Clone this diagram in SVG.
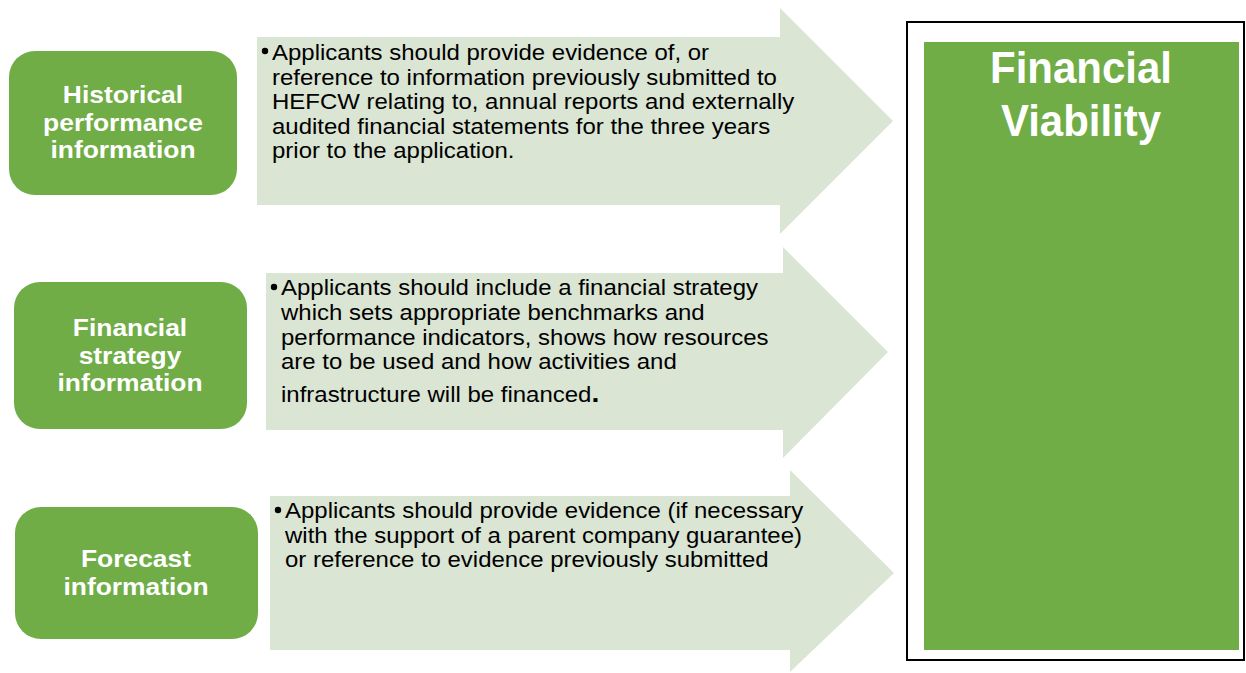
<svg xmlns="http://www.w3.org/2000/svg" width="1246" height="673" viewBox="0 0 1246 673">
  <style>
    .tag { fill: #70AD47; }
    .tag-text { font-family: "Liberation Sans", Arial, sans-serif; font-weight: bold; font-size: 24px; fill: #FFFFFF; text-anchor: middle; }
    .arrow { fill: #DAE5D3; }
    .body { font-family: "Liberation Sans", Arial, sans-serif; font-size: 22px; fill: #000000; }
    .bullet { fill: #000000; }
    .title { font-family: "Liberation Sans", Arial, sans-serif; font-weight: bold; font-size: 45px; fill: #FFFFFF; text-anchor: middle; }
  </style>

  <rect width="1246" height="673" fill="#FFFFFF"/>

  <!-- Left-hand category labels (label text slightly widened) -->
  <g id="historical">
    <rect class="tag" x="9" y="51" width="228" height="144" rx="26"/>
    <g transform="translate(123,0) scale(1.1,1)">
      <text class="tag-text" x="0" y="103">Historical</text>
      <text class="tag-text" x="0" y="131">performance</text>
      <text class="tag-text" x="0" y="158">information</text>
    </g>
  </g>

  <g id="strategy">
    <rect class="tag" x="14" y="282" width="233" height="147" rx="26"/>
    <g transform="translate(130,0) scale(1.1,1)">
      <text class="tag-text" x="0" y="336">Financial</text>
      <text class="tag-text" x="0" y="364">strategy</text>
      <text class="tag-text" x="0" y="391">information</text>
    </g>
  </g>

  <g id="forecast">
    <rect class="tag" x="15" y="507" width="243" height="132" rx="26"/>
    <g transform="translate(136,0) scale(1.1,1)">
      <text class="tag-text" x="0" y="567">Forecast</text>
      <text class="tag-text" x="0" y="595">information</text>
    </g>
  </g>

  <!-- Block arrows carrying the requirement text (body text is slightly widened) -->
  <g id="historical-detail">
    <polygon class="arrow" points="257,37 780,37 780,8 893,121 780,234 780,205 257,205"/>
    <circle class="bullet" cx="265" cy="51" r="3.2"/>
    <text class="body" transform="translate(272,0) scale(1.09,1)">
      <tspan x="0" y="60">Applicants should provide evidence of, or</tspan>
      <tspan x="0" y="85">reference to information previously submitted to</tspan>
      <tspan x="0" y="109">HEFCW relating to, annual reports and externally</tspan>
      <tspan x="0" y="134">audited financial statements for the three years</tspan>
      <tspan x="0" y="158">prior to the application.</tspan>
    </text>
  </g>

  <g id="strategy-detail">
    <polygon class="arrow" points="266,273 783,273 783,247 888,352 783,458 783,430 266,430"/>
    <circle class="bullet" cx="274" cy="287" r="3.2"/>
    <text class="body" transform="translate(281,0) scale(1.09,1)">
      <tspan x="0" y="295">Applicants should include a financial strategy</tspan>
      <tspan x="0" y="320">which sets appropriate benchmarks and</tspan>
      <tspan x="0" y="345">performance indicators, shows how resources</tspan>
      <tspan x="0" y="369">are to be used and how activities and</tspan>
      <tspan x="0" y="402">infrastructure will be financed<tspan font-size="26px" font-weight="bold">.</tspan></tspan>
    </text>
  </g>

  <g id="forecast-detail">
    <polygon class="arrow" points="270,496 790,496 790,470 894,573 790,672 790,650 270,650"/>
    <circle class="bullet" cx="278" cy="510" r="3.2"/>
    <text class="body" transform="translate(285,0) scale(1.09,1)">
      <tspan x="0" y="518">Applicants should provide evidence (if necessary</tspan>
      <tspan x="0" y="543">with the support of a parent company guarantee)</tspan>
      <tspan x="0" y="567">or reference to evidence previously submitted</tspan>
    </text>
  </g>

  <!-- Outcome panel -->
  <g id="financial-viability">
    <rect x="907" y="22" width="337" height="638" fill="#FFFFFF" stroke="#000000" stroke-width="2"/>
    <rect class="tag" x="924" y="42" width="315" height="608"/>
    <text class="title" x="1081" y="83" textLength="182" lengthAdjust="spacingAndGlyphs">Financial</text>
    <text class="title" x="1081" y="136" textLength="160" lengthAdjust="spacingAndGlyphs">Viability</text>
  </g>

  <g id="connectors"/>
</svg>
